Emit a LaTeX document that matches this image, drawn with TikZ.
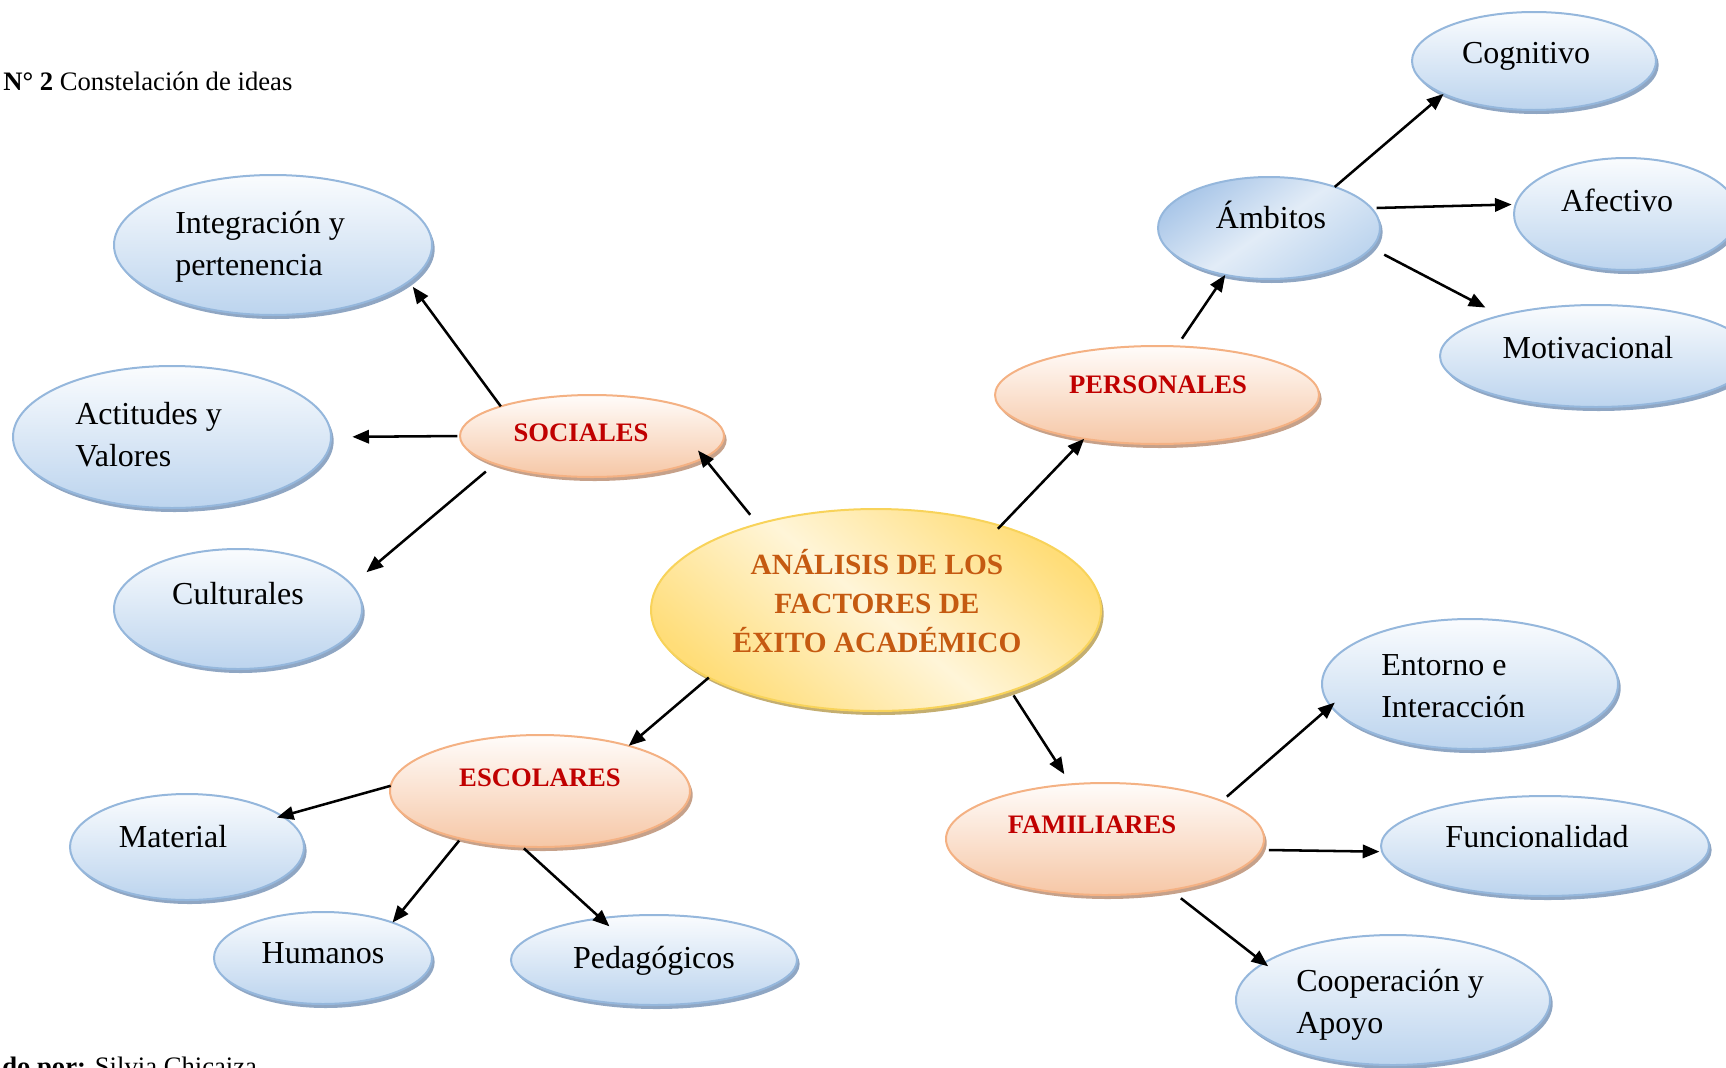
\documentclass[tikz,border=0pt]{standalone}
\usepackage{fontspec}
\setmainfont{Liberation Serif}
\usetikzlibrary{shapes.geometric,arrows.meta}
\definecolor{bline}{HTML}{95B7DC}
\definecolor{btop}{HTML}{FAFCFE}
\definecolor{bbot}{HTML}{BCD4EE}
\definecolor{bshad}{HTML}{8FA6C3}
\definecolor{bdark}{HTML}{A9C6E8}
\definecolor{bmid}{HTML}{E2ECF7}
\definecolor{oline}{HTML}{F4B183}
\definecolor{otop}{HTML}{FFFCFA}
\definecolor{obot}{HTML}{F6C7A6}
\definecolor{oshad}{HTML}{C6A18A}
\definecolor{yline}{HTML}{F8D35A}
\definecolor{ylight}{HTML}{FFF5D8}
\definecolor{ydark}{HTML}{FFDD78}
\definecolor{yshad}{HTML}{C4AE70}
\definecolor{redtxt}{HTML}{C00000}
\definecolor{ortxt}{HTML}{C55A11}
\begin{document}
\begin{tikzpicture}[x=0.75pt,y=-0.75pt,
  ell/.style 2 args={ellipse, inner sep=0pt, outer sep=0pt, minimum width=#1*1.5pt, minimum height=#2*1.5pt},
  bnode/.style={draw=bline, line width=1.5pt, top color=btop, bottom color=bbot,
    preaction={fill=bshad, transform canvas={xshift=2pt,yshift=-3pt}}},
  onode/.style={draw=oline, line width=1.5pt, top color=otop, bottom color=obot,
    preaction={fill=oshad, transform canvas={xshift=2pt,yshift=-3pt}}},
  ynode/.style={draw=yline, line width=1.5pt, top color=ydark, bottom color=ydark, middle color=ylight, shading angle=-40,
    preaction={fill=yshad, transform canvas={xshift=2pt,yshift=-3pt}}},
  btext/.style={font=\fontsize{24}{31.5}\selectfont, inner sep=0pt, align=left},
  ctext/.style={font=\fontsize{20}{24}\selectfont\bfseries, text=redtxt, inner sep=0pt},
  mtext/.style={font=\fontsize{22}{28.9}\selectfont\bfseries, text=ortxt, inner sep=0pt, align=center},
  captext/.style={font=\fontsize{20}{24}\selectfont, inner sep=0pt},
  arr/.style={line width=1.9pt, -{Triangle[length=12.5pt,width=10pt]}}
]
\useasboundingbox (0,0) rectangle (1726,1067);

% ellipses
\node[ell={159}{70}, bnode] (integ) at (273,245) {};
\node[ell={159}{71}, bnode] (actit) at (172,437) {};
\node[ell={124}{60}, bnode] (cult) at (238,609) {};
\node[ell={132}{41}, onode] (soc) at (592,436) {};
\node[ell={225}{101}, ynode] (center) at (876,610) {};
\node[ell={162}{49}, onode] (pers) at (1157,395) {};
\node[ell={111}{51}, bnode, top color=bdark, bottom color=bbot, middle color=bmid, shading angle=35] (amb) at (1269,228) {};
\node[ell={122}{49}, bnode] (cog) at (1534,61) {};
\node[ell={112}{56}, bnode] (afec) at (1626,214) {};
\node[ell={156}{51}, bnode] (mot) at (1596,356) {};
\node[ell={148}{65}, bnode] (ent) at (1470,684) {};
\node[ell={164}{50}, bnode] (func) at (1545,846) {};
\node[ell={157}{65}, bnode] (coop) at (1393,1000) {};
\node[ell={159}{56}, onode] (fam) at (1105,839) {};
\node[ell={150}{56}, onode] (esc) at (540,791) {};
\node[ell={117}{53}, bnode] (mat) at (187,847) {};
\node[ell={109}{46}, bnode] (hum) at (323,958) {};
\node[ell={143}{45}, bnode] (ped) at (654,960) {};

% texts (base anchor of a multi-line node = baseline of its last line)
\node[btext, anchor=base west] (integ-t) at (175,275) {Integración y\\pertenencia};
\node[btext, anchor=base west] (actit-t) at (75,466) {Actitudes y\\Valores};
\node[btext, anchor=base] (cult-t) at (238,604) {Culturales};
\node[ctext, anchor=base] (soc-t) at (581,441) {SOCIALES};
\node[mtext, anchor=base] (center-t) at (877,652) {ANÁLISIS DE LOS\\FACTORES DE\\ÉXITO ACADÉMICO};
\node[ctext, anchor=base] (pers-t) at (1158,393) {PERSONALES};
\node[btext, anchor=base] (amb-t) at (1271,228) {Ámbitos};
\node[btext, anchor=base] (cog-t) at (1526,63) {Cognitivo};
\node[btext, anchor=base] (afec-t) at (1617,211) {Afectivo};
\node[btext, anchor=base] (mot-t) at (1588,358) {Motivacional};
\node[btext, anchor=base west] (ent-t) at (1381,717) {Entorno e\\Interacción};
\node[btext, anchor=base] (func-t) at (1537,847) {Funcionalidad};
\node[btext, anchor=base west] (coop-t) at (1296,1033) {Cooperación y\\Apoyo};
\node[ctext, anchor=base] (fam-t) at (1092,833) {FAMILIARES};
\node[ctext, anchor=base] (esc-t) at (540,786) {ESCOLARES};
\node[btext, anchor=base] (mat-t) at (173,847) {Material};
\node[btext, anchor=base] (hum-t) at (323,963) {Humanos};
\node[btext, anchor=base] (ped-t) at (654,968) {Pedagógicos};

\node[captext, anchor=base west] (cap) at (3,90) {\textbf{N° 2} Constelación de ideas};
\node[captext, anchor=base west] (auth) at (2,1075) {\textbf{do por:} Silvia Chicaiza};

% arrows
\draw[arr, shorten >=5pt] (soc.162) -- (integ.-15.5);
\draw[arr, shorten <=2pt, shorten >=16pt] (soc.180) -- (actit.0);
\draw[arr, shorten <=9pt, shorten >=14.7pt] (soc.196.7) -- (cult.12.7);
\draw[arr, shorten <=9pt, shorten >=-7pt] (center.144.4) -- (soc.-11.9);
\draw[arr, shorten <=-3pt] (center.34.3) -- (pers.211.6);
\draw[arr, shorten <=7pt] (pers.68.4) -- (amb.-133.7);
\draw[arr] (amb.32.5) -- (cog.-160.7);
\draw[arr, shorten <=4pt, shorten >=3pt] (amb.11.6) -- (afec.175);
\draw[arr, shorten <=11pt, shorten >=13pt] (amb.-11.7) -- (mot.157.2);
\draw[arr, shorten <=4pt, shorten >=9pt] (center.-31.1) -- (fam.122.2);
\draw[arr, shorten <=5pt, shorten >=-4pt] (fam.18.6) -- (ent.-171);
\draw[arr, shorten <=6pt, shorten >=2pt] (fam.-4.5) -- (func.182.1);
\draw[arr, shorten <=10pt, shorten >=-4pt] (fam.-38.3) -- (coop.164.2);
\draw[arr] (center.-158.2) -- (esc.27.2);
\draw[arr, shorten >=-4pt] (esc.178.4) -- (mat.18.6);
\draw[arr, shorten <=2pt] (esc.-149.4) -- (hum.27.5);
\draw[arr, shorten <=2pt, shorten >=-9pt] (esc.-108.1) -- (ped.142.9);
\end{tikzpicture}
\end{document}
